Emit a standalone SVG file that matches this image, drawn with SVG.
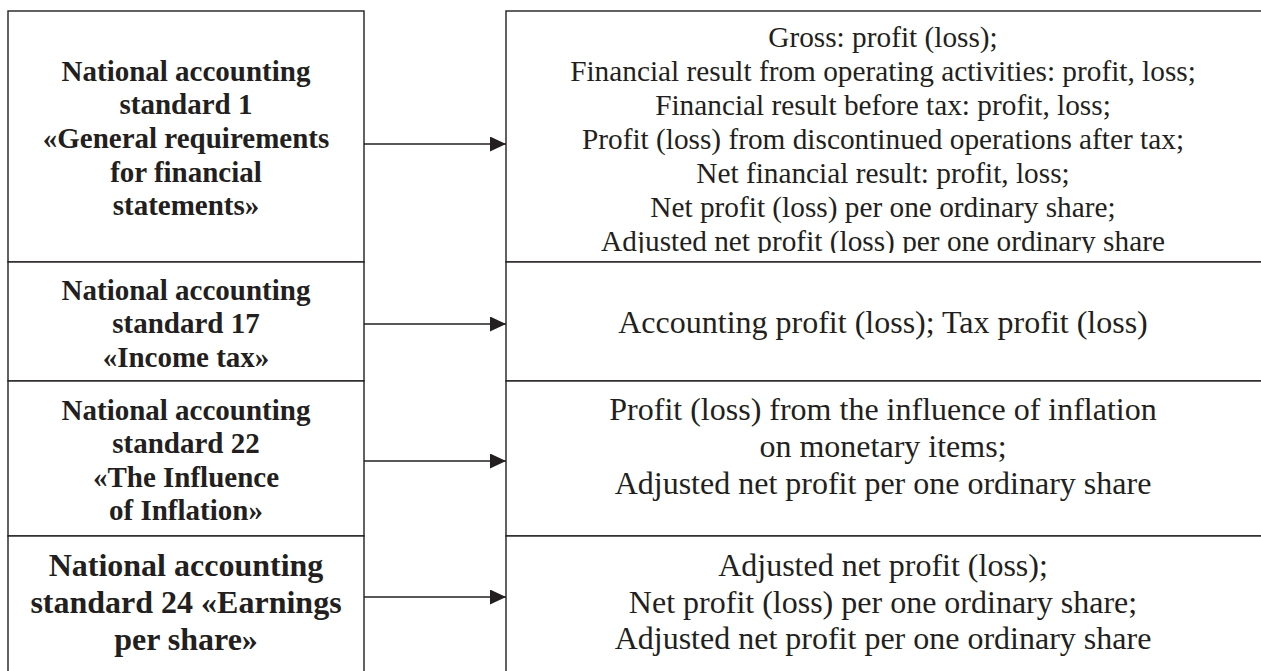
<svg xmlns="http://www.w3.org/2000/svg" width="1261" height="671" viewBox="0 0 1261 671">
<style>
.box{fill:#ffffff;stroke:#231f20;stroke-width:1.4}
.lt{font-family:"Liberation Serif","Times New Roman",serif;font-weight:bold;font-size:29px;fill:#231f20;text-anchor:middle}
.lt4{font-size:32px}
.rt{font-family:"Liberation Serif","Times New Roman",serif;font-size:32px;fill:#231f20;text-anchor:middle}
.rt1{font-size:29.3px}
.conn{stroke:#231f20;stroke-width:1.4;fill:none}
</style>
<defs>
<marker id="ah" markerUnits="userSpaceOnUse" markerWidth="16" markerHeight="15" refX="16" refY="7.5" orient="auto">
<path d="M0,0 L16,7.5 L0,15 z" fill="#231f20"/>
</marker>
<clipPath id="clipR1"><rect x="506" y="11" width="760" height="242"/></clipPath>
</defs>
<rect width="1261" height="671" fill="#ffffff"/>

<g id="nas1">
<rect class="box" x="8" y="11" width="356" height="251"/>
<text class="lt" x="186" y="81">National accounting</text>
<text class="lt" x="186" y="114">standard 1</text>
<text class="lt" x="186" y="148">«General requirements</text>
<text class="lt" x="186" y="182">for financial</text>
<text class="lt" x="186" y="215">statements»</text>
</g>
<g id="nas17">
<rect class="box" x="8" y="262" width="356" height="119"/>
<text class="lt" x="186" y="300">National accounting</text>
<text class="lt" x="186" y="333">standard 17</text>
<text class="lt" x="186" y="367">«Income tax»</text>
</g>
<g id="nas22">
<rect class="box" x="8" y="381" width="356" height="155"/>
<text class="lt" x="186" y="420">National accounting</text>
<text class="lt" x="186" y="453">standard 22</text>
<text class="lt" x="186" y="487">«The Influence</text>
<text class="lt" x="186" y="520">of Inflation»</text>
</g>
<g id="nas24">
<rect class="box" x="8" y="536" width="356" height="160"/>
<text class="lt lt4" x="186" y="576">National accounting</text>
<text class="lt lt4" x="186" y="613">standard 24 «Earnings</text>
<text class="lt lt4" x="186" y="650">per share»</text>
</g>

<g id="res1">
<rect class="box" x="506" y="11" width="770" height="251"/>
<g clip-path="url(#clipR1)">
<text class="rt rt1" x="883" y="47">Gross: profit (loss);</text>
<text class="rt rt1" x="883" y="81">Financial result from operating activities: profit, loss;</text>
<text class="rt rt1" x="883" y="115">Financial result before tax: profit, loss;</text>
<text class="rt rt1" x="883" y="149">Profit (loss) from discontinued operations after tax;</text>
<text class="rt rt1" x="883" y="183">Net financial result: profit, loss;</text>
<text class="rt rt1" x="883" y="217">Net profit (loss) per one ordinary share;</text>
<text class="rt rt1" x="883" y="251">Adjusted net profit (loss) per one ordinary share</text>
</g>
</g>
<g id="res17">
<rect class="box" x="506" y="262" width="770" height="119"/>
<text class="rt" x="883" y="333">Accounting profit (loss); Tax profit (loss)</text>
</g>
<g id="res22">
<rect class="box" x="506" y="381" width="770" height="155"/>
<text class="rt" x="883" y="420">Profit (loss) from the influence of inflation</text>
<text class="rt" x="883" y="457">on monetary items;</text>
<text class="rt" x="883" y="494">Adjusted net profit per one ordinary share</text>
</g>
<g id="res24">
<rect class="box" x="506" y="536" width="770" height="160"/>
<text class="rt" x="883" y="576">Adjusted net profit (loss);</text>
<text class="rt" x="883" y="613">Net profit (loss) per one ordinary share;</text>
<text class="rt" x="883" y="649">Adjusted net profit per one ordinary share</text>
</g>

<g id="connectors">
<line class="conn" x1="364" y1="144" x2="506" y2="144" marker-end="url(#ah)"/>
<line class="conn" x1="364" y1="324" x2="506" y2="324" marker-end="url(#ah)"/>
<line class="conn" x1="364" y1="461" x2="506" y2="461" marker-end="url(#ah)"/>
<line class="conn" x1="364" y1="597" x2="506" y2="597" marker-end="url(#ah)"/>
</g>
</svg>
